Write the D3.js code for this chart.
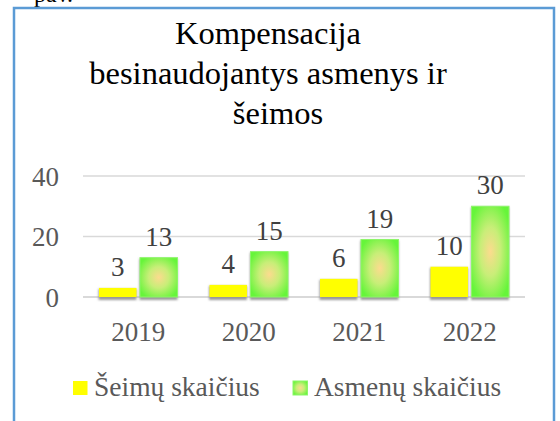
<!DOCTYPE html>
<html><head><meta charset="utf-8">
<script src="https://cdn.jsdelivr.net/npm/d3@7"></script>
<style>body{margin:0;background:#fff}svg{display:block}</style>
</head><body><svg id="c" width="560" height="421"></svg>
<script>
const titleLines = ["Kompensacija", "besinaudojantys asmenys ir", "šeimos"];
const years = ["2019", "2020", "2021", "2022"];
const seriesNames = ["Šeimų skaičius", "Asmenų skaičius"];
const seimos = [3, 4, 6, 10];
const asmenys = [13, 15, 19, 30];
const yTicks = [0, 20, 40];

const FF = "Liberation Serif";
const svg = d3.select("#c");
const defs = svg.append("defs");
const rg = defs.append("radialGradient").attr("id", "gg").attr("cx", "50%").attr("cy", "50%").attr("r", "60%");
rg.append("stop").attr("offset", "0%").attr("stop-color", "#fcdb8e");
rg.append("stop").attr("offset", "45%").attr("stop-color", "#c8ee78");
rg.append("stop").attr("offset", "100%").attr("stop-color", "#66f53a");
const f = defs.append("filter").attr("id", "sh").attr("x", "-20%").attr("y", "-20%").attr("width", "140%").attr("height", "140%");
f.append("feGaussianBlur").attr("stdDeviation", 0.8);

svg.append("text").attr("x", 34).attr("y", 2).attr("font-size", 24).attr("fill", "#000").attr("font-family", FF).text("pav.");

svg.append("rect").attr("x", 14).attr("y", 8).attr("width", 540).attr("height", 430)
  .attr("fill", "#fff").attr("stroke", "#5b9bd5").attr("stroke-width", 2.5);

const titleX = [268, 268, 278];
svg.append("g").selectAll("text").data(titleLines).join("text")
  .attr("x", (d, i) => titleX[i]).attr("y", (d, i) => 44 + i * 40)
  .attr("text-anchor", "middle").attr("font-size", 32.5).attr("fill", "#000")
  .attr("font-family", FF).text(d => d);

const x = d3.scaleBand().domain(years).range([83, 525]).paddingInner(0).paddingOuter(0);
const y = d3.scaleLinear().domain([0, 40]).range([297, 176]);
const xs = d3.scaleBand().domain(seriesNames).range([16, x.bandwidth() - 16]).paddingInner(0.085);

svg.append("g").selectAll("line").data(yTicks).join("line")
  .attr("x1", 83).attr("x2", 525).attr("y1", d => y(d)).attr("y2", d => y(d))
  .attr("stroke", "#d9d9d9").attr("stroke-width", d => d === 0 ? 2 : 1.5);

const yAxis = d3.axisLeft(y).tickValues(yTicks).tickSize(0).tickPadding(0);
const ga = svg.append("g").attr("transform", "translate(59,0)").call(yAxis);
ga.attr("font-family", FF).attr("font-size", 27);
ga.select(".domain").remove();
ga.selectAll("text").attr("fill", "#595959").attr("dy", "0.34em");

const xAxis = d3.axisBottom(x).tickSize(0).tickPadding(0);
const gx = svg.append("g").attr("transform", "translate(0,322)").call(xAxis);
gx.attr("font-family", FF).attr("font-size", 27);
gx.select(".domain").remove();
gx.selectAll("text").attr("fill", "#595959").attr("dy", "0.71em");

const data = [];
years.forEach((yr, i) => {
  data.push({yr, s: seriesNames[0], v: seimos[i], fill: "#ffff00"});
  data.push({yr, s: seriesNames[1], v: asmenys[i], fill: "url(#gg)"});
});

svg.append("g").selectAll("rect").data(data).join("rect")
  .attr("x", d => x(d.yr) + xs(d.s) - 0.5).attr("y", d => y(d.v) + 1)
  .attr("width", xs.bandwidth() + 0.5).attr("height", d => y(0) - y(d.v) + 2)
  .attr("fill", "#9a9a9a").attr("filter", "url(#sh)");
svg.append("g").selectAll("rect").data(data).join("rect")
  .attr("x", d => x(d.yr) + xs(d.s)).attr("y", d => y(d.v))
  .attr("width", xs.bandwidth()).attr("height", d => y(0) - y(d.v))
  .attr("fill", d => d.fill)
  .attr("stroke", d => d.s === seriesNames[1] ? "#8ef56a" : "none").attr("stroke-width", 1);
svg.append("g").selectAll("text").data(data).join("text")
  .attr("x", d => x(d.yr) + xs(d.s) + xs.bandwidth() / 2).attr("y", d => y(d.v) - 12)
  .attr("text-anchor", "middle").attr("font-size", 27).attr("fill", "#404040").attr("font-family", FF).text(d => d.v);

const legX = [73, 293];
const lg = svg.append("g").selectAll("g").data(seriesNames).join("g")
  .attr("transform", (d, i) => `translate(${legX[i]},381)`);
lg.append("rect").attr("width", 14.5).attr("height", 14).attr("fill", (d, i) => i === 0 ? "#ffff00" : "url(#gg)")
  .attr("stroke", (d, i) => i === 0 ? "none" : "#8ef56a");
lg.append("text").attr("x", 21).attr("y", 14.5).attr("font-size", 27.5).attr("fill", "#595959").attr("font-family", FF).text(d => d);
</script></body></html>
